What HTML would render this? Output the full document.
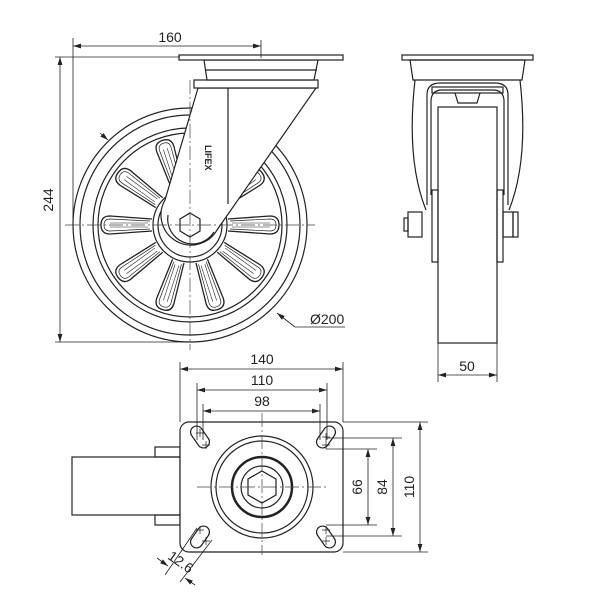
<!DOCTYPE html>
<html><head><style>body{margin:0;background:#fff}svg{display:block}text{font-family:"Liberation Sans",sans-serif;font-size:14px;fill:#222}</style></head><body>
<svg width="600" height="600" viewBox="0 0 600 600" xmlns="http://www.w3.org/2000/svg">
<defs>
<marker id="a" viewBox="0 0 10 6" refX="10" refY="3" markerWidth="10" markerHeight="6" orient="auto-start-reverse"><path d="M0,0L10,3L0,6z" fill="#222"/></marker>
<g id="spoke"><path d="M-6,-38 L-9,-80 Q-9,-89 0,-89 Q9,-89 9,-80 L6,-38" fill="none" stroke="#222" stroke-width="1.3"/><path d="M-4,-40 L-6,-80 Q-6,-86 0,-86 Q6,-86 6,-80 L4,-40" fill="none" stroke="#222" stroke-width="0.7"/><path d="M-2,-42 L-2,-80 M2,-42 L2,-80" fill="none" stroke="#222" stroke-width="0.6"/></g>
</defs>
<g stroke="#222" fill="none" stroke-width="1.2">
<!-- FRONT VIEW -->
<circle cx="190" cy="225" r="117"/>
<circle cx="190" cy="225" r="110"/>
<circle cx="190" cy="225" r="97"/>
<circle cx="190" cy="225" r="92"/>
<g transform="translate(190,225)">
<use href="#spoke" transform="rotate(90)"/><use href="#spoke" transform="rotate(126)"/><use href="#spoke" transform="rotate(162)"/><use href="#spoke" transform="rotate(198)"/><use href="#spoke" transform="rotate(234)"/><use href="#spoke" transform="rotate(270)"/><use href="#spoke" transform="rotate(306)"/><use href="#spoke" transform="rotate(342)"/><use href="#spoke" transform="rotate(18)"/><use href="#spoke" transform="rotate(54)"/>
</g>
<circle cx="190" cy="225" r="37" fill="#fff"/>
<circle cx="190" cy="225" r="32"/>
<!-- fork -->
<path d="M198,88 L165,200 A27,27 0 0 0 217,230 L316,88 Z" fill="#fff"/>
<path d="M168,215 A25,25 0 0 0 214,232"/>
<line x1="228" y1="88" x2="228" y2="204"/>
<rect x="194" y="80" width="124" height="8" fill="#fff"/>
<path d="M204,60 L318,60 L314,80 L207,80 Z" fill="#fff"/>
<line x1="205" y1="70" x2="317" y2="70"/>
<rect x="179" y="55" width="164" height="5" fill="#fff"/>
<polygon points="190,213 200,219 200,231 190,237 180,231 180,219" fill="#fff"/>
<!-- SIDE VIEW -->
<rect x="402" y="55" width="131" height="5"/>
<path d="M410,60 L525,60 L522,80 L413,80 Z"/>
<path d="M415,80 Q406,160 426,210"/>
<path d="M520,80 Q529,160 509,210"/>
<path d="M427,205 L427,95 Q427,83 440,83 L495,83 Q508,83 508,95 L508,205"/>
<path d="M431,195 L431,100 Q432,90 442,90 L493,90 Q503,90 504,100 L504,195"/>
<rect x="432" y="87" width="71" height="6"/>
<path d="M455,93 L458,103 L477,103 L480,93"/>
<rect x="438" y="107" width="59" height="236" fill="#fff"/>
<rect x="432" y="190" width="6" height="72"/>
<rect x="497" y="190" width="6" height="72"/>
<rect x="408" y="212" width="14" height="25"/>
<rect x="513" y="212" width="5" height="25"/>
<rect x="503" y="212" width="10" height="25"/>
<rect x="404" y="218" width="4" height="13"/>
<!-- BOTTOM VIEW -->
<rect x="72" y="457" width="108" height="58"/>
<rect x="155" y="447" width="25" height="10"/>
<rect x="155" y="515" width="25" height="10"/>
<rect x="180" y="422" width="163" height="130" rx="9" fill="#fff"/>
<circle cx="262" cy="487" r="51"/>
<circle cx="262" cy="487" r="46"/>
<circle cx="262" cy="487" r="30" stroke-width="2.5"/>
<circle cx="262" cy="487" r="21"/>
<polygon points="262,471 276,479 276,495 262,503 248,495 248,479"/>
<g transform="translate(200,437) rotate(55)"><rect x="-12" y="-6" width="24" height="12" rx="6"/></g>
<g transform="translate(326,437) rotate(-55)"><rect x="-12" y="-6" width="24" height="12" rx="6"/></g>
<g transform="translate(200,537) rotate(-55)"><rect x="-12" y="-6" width="24" height="12" rx="6"/></g>
<g transform="translate(326,537) rotate(55)"><rect x="-12" y="-6" width="24" height="12" rx="6"/></g>
</g>
<g stroke="#222" stroke-width="0.7">
<path d="M196,433h8M200,429v8M202,445h8M206,441v8M322,437h8M326,433v8M322,445h8M326,441v8M196,530h8M200,526v8M202,541h8M206,537v8M322,530h8M326,526v8M322,541h8M326,537v8"/>
</g>
<!-- center lines -->
<g stroke="#444" stroke-width="0.7" fill="none" stroke-dasharray="14,3,2,3">
<line x1="65" y1="225" x2="315" y2="225"/><line x1="190" y1="80" x2="190" y2="350"/>
<line x1="197" y1="487" x2="327" y2="487"/><line x1="262" y1="413" x2="262" y2="555"/>
</g>
<!-- dimensions -->
<g stroke="#222" stroke-width="0.8" fill="none">
<line x1="73" y1="38" x2="73" y2="225"/><line x1="261" y1="40" x2="261" y2="58"/>
<line x1="73" y1="46" x2="261" y2="46" marker-start="url(#a)" marker-end="url(#a)"/>
<line x1="55" y1="57" x2="180" y2="57"/><line x1="55" y1="342" x2="190" y2="342"/>
<line x1="60" y1="57" x2="60" y2="342" marker-start="url(#a)" marker-end="url(#a)"/>
<line x1="100" y1="133" x2="108" y2="140" marker-end="url(#a)"/>
<polyline points="295,327 277,313" marker-end="url(#a)"/><line x1="295" y1="327" x2="345" y2="327"/>
<line x1="438" y1="343" x2="438" y2="382"/><line x1="497" y1="343" x2="497" y2="382"/>
<line x1="438" y1="375" x2="497" y2="375" marker-start="url(#a)" marker-end="url(#a)"/>
<line x1="180" y1="362" x2="180" y2="422"/><line x1="343" y1="362" x2="343" y2="422"/>
<line x1="180" y1="369" x2="343" y2="369" marker-start="url(#a)" marker-end="url(#a)"/>
<line x1="197" y1="383" x2="197" y2="440"/><line x1="327" y1="383" x2="327" y2="440"/>
<line x1="197" y1="390" x2="327" y2="390" marker-start="url(#a)" marker-end="url(#a)"/>
<line x1="203" y1="404" x2="203" y2="440"/><line x1="320" y1="404" x2="320" y2="440"/>
<line x1="203" y1="411" x2="320" y2="411" marker-start="url(#a)" marker-end="url(#a)"/>
<line x1="343" y1="422" x2="428" y2="422"/><line x1="343" y1="552" x2="428" y2="552"/>
<line x1="420" y1="422" x2="420" y2="552" marker-start="url(#a)" marker-end="url(#a)"/>
<line x1="326" y1="438" x2="402" y2="438"/><line x1="326" y1="536" x2="402" y2="536"/>
<line x1="393" y1="438" x2="393" y2="536" marker-start="url(#a)" marker-end="url(#a)"/>
<line x1="326" y1="449" x2="377" y2="449"/><line x1="326" y1="525" x2="377" y2="525"/>
<line x1="368" y1="449" x2="368" y2="525" marker-start="url(#a)" marker-end="url(#a)"/>
<line x1="197" y1="528" x2="165" y2="575"/><line x1="212" y1="540" x2="180" y2="582"/>
<line x1="157" y1="558" x2="168" y2="566" marker-end="url(#a)"/><line x1="195" y1="585" x2="185" y2="578" marker-end="url(#a)"/>
</g>
<text x="170" y="42" text-anchor="middle">160</text>
<text transform="translate(53,200) rotate(-90)" text-anchor="middle">244</text>
<text x="310" y="324">Ø200</text>
<text x="467" y="371" text-anchor="middle">50</text>
<text x="262" y="364" text-anchor="middle">140</text>
<text x="262" y="385" text-anchor="middle">110</text>
<text x="262" y="406" text-anchor="middle">98</text>
<text transform="translate(414,487) rotate(-90)" text-anchor="middle">110</text>
<text transform="translate(387,487) rotate(-90)" text-anchor="middle">84</text>
<text transform="translate(362,487) rotate(-90)" text-anchor="middle">66</text>
<text transform="translate(178,566) rotate(35)" text-anchor="middle">12.6</text>
<text transform="translate(205,145) rotate(90)" style="font-size:9px;font-weight:bold">LIFEX</text>
</svg>
</body></html>
